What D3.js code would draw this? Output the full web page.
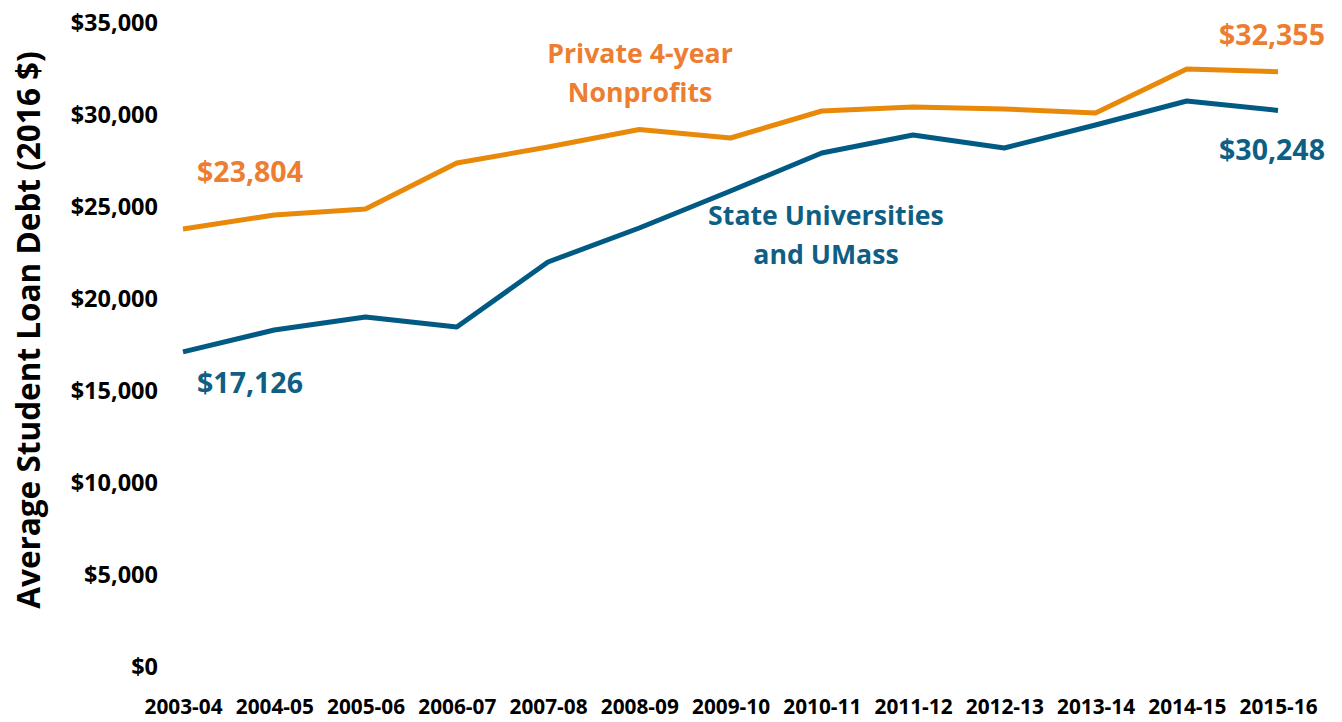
<!DOCTYPE html>
<meta charset="utf-8">
<style>
body { margin: 0; background: #fff; }
text { font-family: "Open Sans", "Noto Sans", sans-serif; font-weight: bold; }
.line { fill: none; stroke-width: 5px; stroke-linejoin: round; }
</style>
<body>
<script src="https://cdn.jsdelivr.net/npm/d3@7"></script>
<script>

// data
var years = ["2003-04", "2004-05", "2005-06", "2006-07", "2007-08", "2008-09", "2009-10",
             "2010-11", "2011-12", "2012-13", "2013-14", "2014-15", "2015-16"];
var privateDebt = [23804, 24565, 24891, 27391, 28261, 29212, 28750, 30217, 30435, 30326, 30109, 32500, 32355];
var stateDebt = [17126, 18315, 19022, 18478, 22011, 23859, 25870, 27935, 28913, 28207, 29457, 30761, 30248];
var yTicks = [0, 5000, 10000, 15000, 20000, 25000, 30000, 35000];

var orangeLine = "#E8890A", orangeText = "#ED7D31";
var blueLine = "#005A84", blueText = "#0F5F85";

var width = 1342, height = 722;

var svg = d3.select("body").append("svg")
    .attr("width", width)
    .attr("height", height);

// set the ranges
var x = d3.scalePoint()
    .domain(years)
    .range([183, 1278]);

var y = d3.scaleLinear()
    .domain([0, 35000])
    .range([667, 23]);

var fmt = d3.format("$,");

// y axis labels (no axis line)
svg.append("g")
    .attr("transform", "translate(158,0)")
    .call(d3.axisLeft(y).tickValues(yTicks).tickSize(0).tickPadding(0).tickFormat(fmt))
    .call(function(g) { g.select(".domain").remove(); })
    .selectAll("text")
    .attr("font-family", null)
    .style("font-size", "23.5px")
    .attr("fill", "#000");

// x axis labels
svg.append("g")
    .attr("transform", "translate(0,699)")
    .call(d3.axisBottom(x).tickSize(0).tickPadding(0))
    .call(function(g) { g.select(".domain").remove(); })
    .selectAll("text")
    .attr("font-family", null)
    .attr("dy", "0.71em")
    .style("font-size", "20.8px")
    .attr("fill", "#000");

// axis title
svg.append("text")
    .attr("transform", "translate(40,330) rotate(-90)")
    .attr("text-anchor", "middle")
    .style("font-size", "31.5px")
    .text("Average Student Loan Debt (2016 $)");

var line = d3.line()
    .x(function(d, i) { return x(years[i]); })
    .y(function(d) { return y(d); });

svg.append("path")
    .datum(privateDebt)
    .attr("class", "line")
    .attr("stroke", orangeLine)
    .attr("d", line);

svg.append("path")
    .datum(stateDebt)
    .attr("class", "line")
    .attr("stroke", blueLine)
    .attr("d", line);

// annotations
function label(txt, cx, by, color, size) {
  svg.append("text")
      .attr("x", cx)
      .attr("y", by)
      .attr("text-anchor", "middle")
      .attr("fill", color)
      .style("font-size", size + "px")
      .text(txt);
}

var last = years.length - 1;
label(fmt(privateDebt[0]), x(years[0]) + 67, 182, orangeText, 28.5);
label(fmt(stateDebt[0]), x(years[0]) + 67, 393, blueText, 28.5);
label(fmt(privateDebt[last]), x(years[last]) - 6, 45, orangeText, 28.5);
label(fmt(stateDebt[last]), x(years[last]) - 6, 160, blueText, 28.5);

label("Private 4-year", 640, 63, orangeText, 26.7);
label("Nonprofits", 640, 102, orangeText, 26.7);
label("State Universities", 826, 225, blueText, 26.7);
label("and UMass", 826, 264, blueText, 26.7);

</script>
</body>
